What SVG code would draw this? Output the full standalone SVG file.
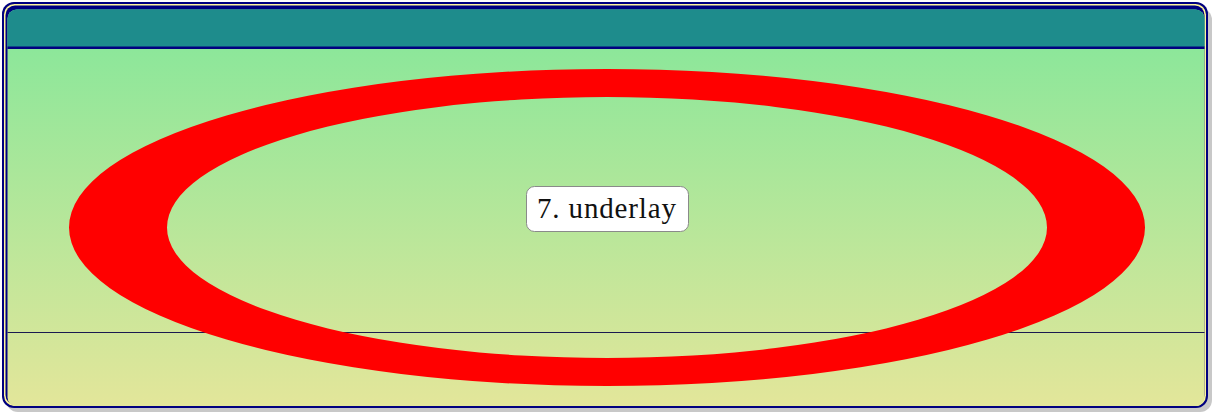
<svg xmlns="http://www.w3.org/2000/svg" width="1212" height="412" viewBox="0 0 1212 412">
<defs>
<linearGradient id="bg" x1="0" y1="0" x2="0" y2="1">
<stop offset="0" stop-color="#83E79A"/>
<stop offset="1" stop-color="#E3E69A"/>
</linearGradient>
<clipPath id="inner"><rect x="7.5" y="9.5" width="1197" height="397" rx="9"/></clipPath>
<style>
.lbl{font-family:"Liberation Serif","DejaVu Serif",serif;font-size:29px;fill:#111}
</style>
</defs>
<rect width="1212" height="412" fill="#ffffff"/>
<g id="frame">
<rect x="6" y="8" width="1206" height="404" rx="12" fill="#c8c8c8"/>
<rect x="2" y="2" width="1206" height="406" rx="12" fill="#000080"/>
<rect x="4" y="4" width="1202" height="402" rx="10.5" fill="#FFF59A"/>
<rect x="5.5" y="5.5" width="1199" height="399" rx="9.5" fill="#000080"/>
<g clip-path="url(#inner)">
<rect x="7" y="9" width="1198" height="397" fill="url(#bg)"/>
<rect x="7" y="7" width="1198" height="40" fill="#1E8C8C"/>
<rect x="7" y="46.5" width="1198" height="2.5" fill="#000080"/>
<line x1="7" y1="332.5" x2="1205" y2="332.5" stroke="#1a1a50" stroke-width="1"/>
</g>
</g>
<g id="ring">
<path fill="#FF0000" fill-rule="evenodd" d="M69 227.5a538 158.5 0 1 0 1076 0a538 158.5 0 1 0 -1076 0Z M167 227.5a440 130.5 0 1 0 880 0a440 130.5 0 1 0 -880 0Z"/>
</g>
<g id="label">
<rect x="526.5" y="186.5" width="162" height="45" rx="8" fill="#ffffff" stroke="#8a8a8a" stroke-width="1"/>
<text class="lbl" x="537" y="218" textLength="139" lengthAdjust="spacing">7. underlay</text>
</g>
</svg>
